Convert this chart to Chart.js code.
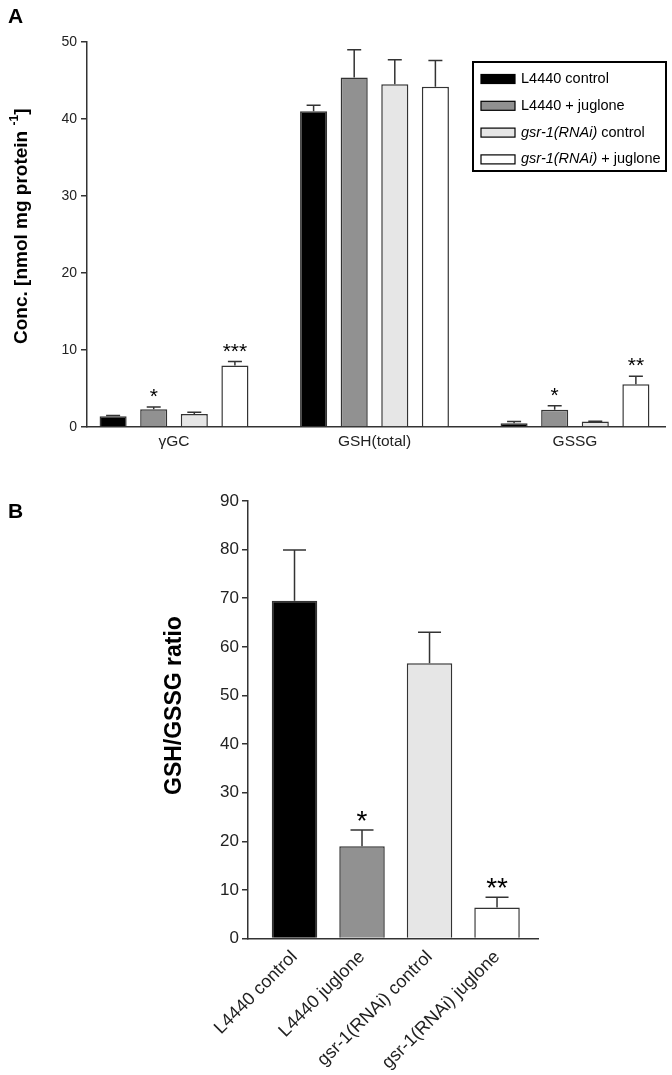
<!DOCTYPE html>
<html>
<head>
<meta charset="utf-8">
<title>Glutathione levels</title>
<script src="https://cdn.jsdelivr.net/npm/chart.js@4.4.1/dist/chart.umd.min.js"></script>
<style>
body { margin: 0; background: #fff; font-family: "Liberation Sans", Arial, sans-serif; }
#wrap { position: relative; width: 672px; height: 1075px; }
.panel { position: absolute; left: 0; width: 672px; }
#boxA { top: 0; height: 470px; }
#boxB { top: 470px; height: 605px; }
.letter { position: absolute; left: 8px; font-weight: bold; font-size: 21px; line-height: 1; color: #000; }
</style>
</head>
<body>
<div id="wrap">
  <div class="panel" id="boxA"><canvas id="chartA"></canvas></div>
  <div class="panel" id="boxB"><canvas id="chartB"></canvas></div>
  <div class="letter" style="top:5px">A</div>
  <div class="letter" style="top:500px">B</div>
</div>
<script>
// panel A: concentrations, 4 series x 3 groups
const groupsA = ['\u03b3GC', 'GSH(total)', 'GSSG'];
const seriesA = ['L4440 control', 'L4440 + juglone', 'gsr-1(RNAi) control', 'gsr-1(RNAi) + juglone'];
const legendItalic = ['', '', 'gsr-1(RNAi)', 'gsr-1(RNAi)'];
const legendPlain = ['L4440 control', 'L4440 + juglone', ' control', ' + juglone'];
const meanA = [
  [1.4, 41.0, 0.5],
  [2.3, 45.4, 2.25],
  [1.7, 44.5, 0.7],
  [8.0, 44.2, 5.55]
];
const semA = [
  [0.1, 0.8, 0.2],
  [0.3, 3.6, 0.5],
  [0.2, 3.2, 0.05],
  [0.5, 3.4, 1.05]
];
const starsA = [
  ['', '', ''],
  ['*', '', '*'],
  ['', '', ''],
  ['***', '', '**']
];
const yTicksA = [0, 10, 20, 30, 40, 50];

// panel B: GSH/GSSG ratio
const groupsB = ['L4440 control', 'L4440 juglone', 'gsr-1(RNAi) control', 'gsr-1(RNAi) juglone'];
const meanB = [69.5, 19.0, 56.6, 6.4];
const semB = [10.4, 3.3, 6.4, 2.1];
const starsB = ['', '*', '', '**'];
const yTicksB = [0, 10, 20, 30, 40, 50, 60, 70, 80, 90];

const fills = ['#000000', '#919191', '#e6e6e6', '#ffffff'];
const FONT = '"Liberation Sans", Arial, sans-serif';
const AXIS = '#333';

function errorBars(getSem, getStar, capW, starFont, starLift) {
  return {
    id: 'errorBars',
    afterDatasetsDraw(chart) {
      const ctx = chart.ctx, ys = chart.scales.y;
      chart.data.datasets.forEach((ds, di) => {
        chart.getDatasetMeta(di).data.forEach((bar, i) => {
          const e = getSem(di, i);
          const yTop = ys.getPixelForValue(ds.data[i].y + e);
          ctx.save();
          ctx.strokeStyle = AXIS;
          ctx.lineWidth = 1.5;
          if (e > 0) {
            ctx.beginPath();
            ctx.moveTo(bar.x, bar.y);
            ctx.lineTo(bar.x, yTop);
            ctx.moveTo(bar.x - capW / 2, yTop);
            ctx.lineTo(bar.x + capW / 2, yTop);
            ctx.stroke();
          }
          const s = getStar(di, i);
          if (s) {
            ctx.fillStyle = '#000';
            ctx.font = starFont;
            ctx.textAlign = 'center';
            ctx.textBaseline = 'alphabetic';
            ctx.fillText(s, bar.x, yTop - starLift);
          }
          ctx.restore();
        });
      });
    }
  };
}

// rotated axis title, drawn from the bottom up, parts can be raised (superscript)
function yTitle(parts, cx, yStart) {
  return {
    id: 'yTitle',
    afterDraw(chart) {
      const ctx = chart.ctx;
      ctx.save();
      ctx.translate(cx, yStart);
      ctx.rotate(-Math.PI / 2);
      ctx.fillStyle = '#000';
      ctx.textBaseline = 'middle';
      ctx.textAlign = 'left';
      let x = 0;
      parts.forEach(p => {
        ctx.font = p.font;
        ctx.fillText(p.t, x, -(p.lift || 0));
        x += ctx.measureText(p.t).width;
      });
      ctx.restore();
    }
  };
}

const legendA = {
  id: 'legendA',
  afterDraw(chart) {
    const ctx = chart.ctx;
    ctx.save();
    ctx.strokeStyle = '#000';
    ctx.lineWidth = 2;
    ctx.strokeRect(473, 62, 193, 109);
    chart.data.datasets.forEach((ds, i) => {
      const cy = 79 + i * 26.8;
      ctx.fillStyle = ds.backgroundColor;
      ctx.fillRect(481, cy - 4.5, 34, 9);
      ctx.lineWidth = 1.2;
      ctx.strokeRect(481, cy - 4.5, 34, 9);
      ctx.fillStyle = '#000';
      ctx.textBaseline = 'middle';
      let x = 521;
      if (legendItalic[i]) {
        ctx.font = 'italic 14.5px ' + FONT;
        ctx.fillText(legendItalic[i], x, cy);
        x += ctx.measureText(legendItalic[i]).width;
      }
      ctx.font = '14.5px ' + FONT;
      ctx.fillText(legendPlain[i], x, cy);
    });
    ctx.restore();
  }
};

const chartA = new Chart(document.getElementById('chartA'), {
  type: 'bar',
  data: {
    datasets: seriesA.map((name, si) => ({
      label: name,
      data: groupsA.map((g, gi) => ({ x: gi, y: meanA[si][gi] })),
      backgroundColor: fills[si],
      borderColor: AXIS,
      borderWidth: 1.5,
      barPercentage: 0.667,
      categoryPercentage: 0.81
    }))
  },
  options: {
    responsive: true,
    maintainAspectRatio: false,
    animation: false,
    layout: { padding: { left: 0, right: 7, top: 42, bottom: 0 } },
    plugins: { legend: { display: false }, tooltip: { enabled: false } },
    scales: {
      x: {
        type: 'linear',
        offset: false,
        min: -0.434,
        max: 2.449,
        afterBuildTicks: s => { s.ticks = groupsA.map((g, i) => ({ value: i })); },
        afterFit: s => { s.height = 43; },
        ticks: { callback: v => groupsA[v], font: { size: 15.5, family: FONT }, color: '#222', padding: 5, maxRotation: 0 },
        grid: { display: false, drawTicks: false, offset: false },
        border: { color: AXIS, width: 1.5 }
      },
      y: {
        min: 0,
        max: 50,
        afterBuildTicks: s => { s.ticks = yTicksA.map(v => ({ value: v })); },
        afterFit: s => { s.width = 87; },
        ticks: { font: { size: 14, family: FONT }, color: '#222', padding: 4 },
        grid: { drawOnChartArea: false, tickLength: 6, color: AXIS, lineWidth: 1.5 },
        border: { color: AXIS, width: 1.5 }
      }
    }
  },
  plugins: [
    errorBars((d, i) => semA[d][i], (d, i) => starsA[d][i], 14, '21px ' + FONT, 4),
    legendA,
    yTitle([
      { t: 'Conc. [nmol mg protein ', font: 'bold 19px ' + FONT },
      { t: '-1', font: 'bold 12px ' + FONT, lift: 7 },
      { t: ']', font: 'bold 19px ' + FONT }
    ], 22, 344)
  ]
});

const chartB = new Chart(document.getElementById('chartB'), {
  type: 'bar',
  data: {
    datasets: [{
      label: 'GSH/GSSG ratio',
      data: groupsB.map((g, i) => ({ x: i, y: meanB[i] })),
      backgroundColor: fills,
      borderColor: AXIS,
      borderWidth: 1.5,
      barPercentage: 0.674,
      categoryPercentage: 1
    }]
  },
  options: {
    responsive: true,
    maintainAspectRatio: false,
    animation: false,
    layout: { padding: { left: 0, right: 134, top: 31, bottom: 0 } },
    plugins: { legend: { display: false }, tooltip: { enabled: false } },
    scales: {
      x: {
        type: 'linear',
        offset: false,
        min: -0.689,
        max: 3.607,
        afterBuildTicks: s => { s.ticks = groupsB.map((g, i) => ({ value: i })); },
        afterFit: s => { s.height = 136.5; },
        ticks: { callback: v => groupsB[v], font: { size: 18, family: FONT }, color: '#222', padding: 8,
                 minRotation: 45, maxRotation: 45, autoSkip: false },
        grid: { display: false, drawTicks: false, offset: false },
        border: { color: AXIS, width: 1.5 }
      },
      y: {
        min: 0,
        max: 90,
        afterBuildTicks: s => { s.ticks = yTicksB.map(v => ({ value: v })); },
        afterFit: s => { s.width = 248; },
        ticks: { font: { size: 17, family: FONT }, color: '#222', padding: 3 },
        grid: { drawOnChartArea: false, tickLength: 6, color: AXIS, lineWidth: 1.5 },
        border: { color: AXIS, width: 1.5 }
      }
    }
  },
  plugins: [
    errorBars((d, i) => semB[i], (d, i) => starsB[i], 23, '28px ' + FONT, 0),
    yTitle([{ t: 'GSH/GSSG ratio', font: 'bold 23px ' + FONT }], 175, 325)
  ]
});
</script>
</body>
</html>
